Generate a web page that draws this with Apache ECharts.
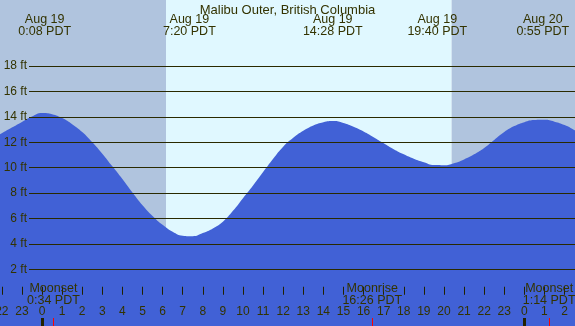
<!DOCTYPE html>
<html>
<head>
<meta charset="utf-8">
<title>Malibu Outer tide</title>
<script src="https://cdn.jsdelivr.net/npm/echarts@6/dist/echarts.min.js"></script>
<style>
  html, body { margin: 0; padding: 0; background: #fff; }
  #tide { width: 575px; height: 326px; }
</style>
</head>
<body>
<div id="tide"></div>
<script>
/* tide height (ft) every half hour, time in hours from Aug 19 0:00 PDT */
var hours   = [-3, -2.5, -2, -1.5, -1, -0.5, 0, 0.5, 1, 1.5, 2, 2.5, 3, 3.5, 4, 4.5, 5, 5.5, 6, 6.5, 7, 7.5, 8, 8.5, 9, 9.5, 10, 10.5, 11, 11.5, 12, 12.5, 13, 13.5,
               14, 14.5, 15, 15.5, 16, 16.5, 17, 17.5, 18, 18.5, 19, 19.5, 20, 20.5, 21, 21.5, 22, 22.5, 23, 23.5, 24, 24.5, 25, 25.5, 26, 26.5, 27];
var heights = [11.8, 12.25, 12.7, 13.15, 13.6, 14.02, 14.3, 14.2, 13.9, 13.42, 12.8, 12.0, 11.1, 10.1, 9.1, 8.05, 7.05, 6.2, 5.5, 4.95, 4.64, 4.6, 4.85, 5.22, 5.75, 6.6, 7.6, 8.6, 9.65, 10.7, 11.65, 12.35, 12.9, 13.32,
               13.58, 13.67, 13.52, 13.22, 12.85, 12.4, 11.92, 11.45, 11.05, 10.7, 10.42, 10.2, 10.19, 10.35, 10.65, 11.05, 11.55, 12.18, 12.8, 13.27, 13.58, 13.74, 13.76, 13.62, 13.35, 12.95, 12.5];

var tideTimes  = [0.133, 7.333, 14.467, 19.667, 24.917];
var tideLabels = ['Aug 19\n0:08 PDT', 'Aug 19\n7:20 PDT', 'Aug 19\n14:28 PDT', 'Aug 19\n19:40 PDT', 'Aug 20\n0:55 PDT'];

var moonTimes  = [0.567, 16.433, 25.233];
var moonLabels = ['Moonset\n0:34 PDT', 'Moonrise\n16:26 PDT', 'Moonset\n1:14 PDT'];

var sunrise = 6.17, sunset = 20.38;
var hourTicks = [];
for (var h = -2; h <= 26; h++) hourTicks.push(h);
var midnights = [0, 24];
var feetTicks = [2, 4, 6, 8, 10, 12, 14, 16, 18];

var xMin = -2.09, xMax = 26.52;
var yMin = -2.46, yMax = 23.19;

var ink = '#333300';
var font = 'Liberation Sans, Arial, sans-serif';

var chart = echarts.init(document.getElementById('tide'), null, { renderer: 'canvas' });

function baseX(extra) {
    var o = {
        type: 'value', gridIndex: 0, min: xMin, max: xMax, position: 'bottom', z: 10,
        axisLine: { show: false }, splitLine: { show: false },
        axisTick: { show: false }, axisLabel: { show: false }
    };
    for (var k in extra) o[k] = extra[k];
    return o;
}

var option = {
    animation: false,
    title: {
        text: 'Malibu Outer, British Columbia', left: 'center', top: -1,
        textStyle: { fontFamily: font, fontSize: 13, fontWeight: 'normal', color: ink }
    },
    grid: [
        { left: 0, right: 0, top: 0, bottom: 0, outerBoundsMode: 'none' },
        { left: 29, right: 0, top: 0, bottom: 0, outerBoundsMode: 'none' }
    ],
    xAxis: [
        baseX({
            axisTick: { show: true, inside: true, length: 8, customValues: hourTicks, lineStyle: { color: '#222200', width: 1 } },
            axisLabel: {
                show: true, inside: true, margin: 8, customValues: hourTicks,
                fontFamily: font, fontSize: 12, color: ink,
                formatter: function (v) { return String(((Math.round(v) % 24) + 24) % 24); }
            }
        }),
        baseX({
            axisTick: { show: true, inside: true, length: 8, customValues: midnights, lineStyle: { color: '#222200', width: 3 } }
        }),
        baseX({
            axisTick: { show: true, inside: true, length: 8, customValues: moonTimes, lineStyle: { color: '#ff0000', width: 1 } },
            axisLabel: {
                show: true, inside: true, margin: 19, customValues: moonTimes,
                fontFamily: font, fontSize: 12.5, lineHeight: 12, color: ink,
                formatter: function (v) { return moonLabels[moonTimes.indexOf(v)]; }
            }
        }),
        baseX({
            position: 'top',
            axisLabel: {
                show: true, inside: true, margin: 14, customValues: tideTimes,
                fontFamily: font, fontSize: 12.5, lineHeight: 12, color: ink,
                formatter: function (v) { return tideLabels[tideTimes.indexOf(v)]; }
            }
        }),
        { type: 'value', gridIndex: 1, min: xMin, max: xMax, show: false }
    ],
    yAxis: [
        { type: 'value', gridIndex: 0, min: yMin, max: yMax, show: false },
        {
            type: 'value', gridIndex: 1, min: yMin, max: yMax, z: 5,
            axisLine: { show: false },
            axisTick: { show: false, customValues: feetTicks },
            axisLabel: {
                customValues: feetTicks, margin: 2, fontFamily: font, fontSize: 12, color: ink,
                formatter: function (v) { return v + ' ft'; }
            },
            splitLine: { show: true, lineStyle: { color: '#2a2a00', width: 1 } }
        }
    ],
    series: [
        {
            type: 'line', xAxisIndex: 0, yAxisIndex: 0, z: 2,
            data: hours.map(function (t, i) { return [t, heights[i]]; }),
            smooth: 0.5, showSymbol: false, silent: true,
            lineStyle: { width: 0 },
            areaStyle: { color: '#4161d6', opacity: 1, origin: 'start' },
            markArea: {
                silent: true,
                data: [
                    [{ xAxis: xMin, itemStyle: { color: '#b0c4de' } }, { xAxis: sunrise }],
                    [{ xAxis: sunrise, itemStyle: { color: '#e0f8ff' } }, { xAxis: sunset }],
                    [{ xAxis: sunset, itemStyle: { color: '#b0c4de' } }, { xAxis: xMax }]
                ]
            }
        }
    ]
};

chart.setOption(option);
</script>
</body>
</html>
